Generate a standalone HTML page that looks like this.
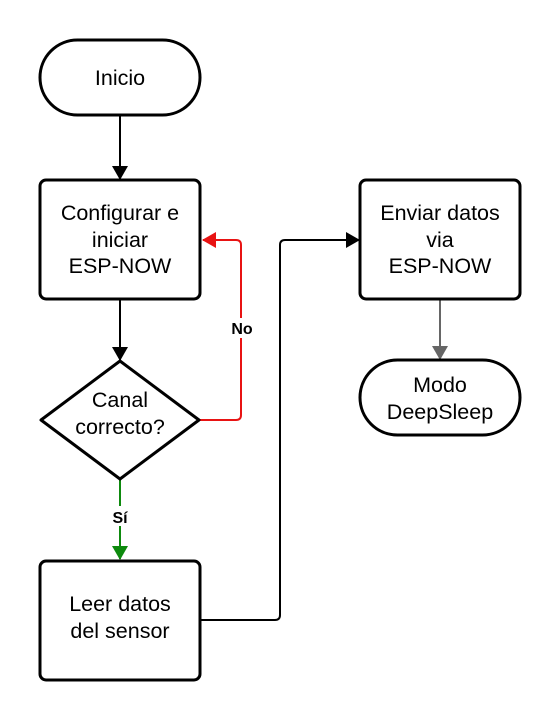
<!DOCTYPE html>
<html><head><meta charset="utf-8"><style>html,body{margin:0;padding:0;background:#fff}svg{display:block}</style></head><body>
<svg width="560" height="720" viewBox="0 0 560 720" xmlns="http://www.w3.org/2000/svg" font-family="Liberation Sans, Arial, sans-serif">
<defs>
<marker id="ab" markerWidth="14" markerHeight="16" refX="13" refY="8" orient="auto" markerUnits="userSpaceOnUse"><path d="M0,0 L14,8 L0,16 Z" fill="#000"/></marker>
<marker id="ar" markerWidth="14" markerHeight="16" refX="13" refY="8" orient="auto" markerUnits="userSpaceOnUse"><path d="M0,0 L14,8 L0,16 Z" fill="#e81313"/></marker>
<marker id="ag" markerWidth="14" markerHeight="16" refX="13" refY="8" orient="auto" markerUnits="userSpaceOnUse"><path d="M0,0 L14,8 L0,16 Z" fill="#0e8a0e"/></marker>
<marker id="ay" markerWidth="14" markerHeight="16" refX="13" refY="8" orient="auto" markerUnits="userSpaceOnUse"><path d="M0,0 L14,8 L0,16 Z" fill="#666"/></marker>
</defs>
<g fill="none" stroke-width="2">
<line x1="120" y1="116" x2="120" y2="179" stroke="#000" marker-end="url(#ab)"/>
<line x1="120" y1="300" x2="120" y2="360" stroke="#000" marker-end="url(#ab)"/>
<path d="M198,420 H236 Q241,420 241,415 V245 Q241,240 236,240 H203" stroke="#e81313" marker-end="url(#ar)"/>
<line x1="120" y1="479" x2="120" y2="559" stroke="#0e8a0e" marker-end="url(#ag)"/>
<path d="M200,620 H275 Q280,620 280,615 V245 Q280,240 285,240 H359" stroke="#000" marker-end="url(#ab)"/>
<line x1="440" y1="300" x2="440" y2="359" stroke="#666" marker-end="url(#ay)"/>
</g>
<g fill="#fff" stroke="#000" stroke-width="3">
<rect x="40" y="40" width="160" height="75" rx="37.5"/>
<rect x="40" y="180" width="160" height="119" rx="6"/>
<path d="M120,361 L199,420 L120,479 L41,420 Z" stroke-linejoin="round"/>
<rect x="40" y="561" width="160" height="119" rx="6"/>
<rect x="360" y="180" width="160" height="119" rx="6"/>
<rect x="360" y="360" width="160" height="75" rx="37.5"/>
</g>
<rect x="228" y="318" width="28" height="20" fill="#fff"/>
<rect x="108" y="506" width="24" height="20" fill="#fff"/>
<g font-size="21.5" text-anchor="middle" fill="#000">
<text x="120" y="85">Inicio</text>
<text x="120" y="220">Configurar e</text>
<text x="120" y="247">iniciar</text>
<text x="120" y="273">ESP-NOW</text>
<text x="120" y="407">Canal</text>
<text x="120" y="434">correcto?</text>
<text x="120" y="611">Leer datos</text>
<text x="120" y="638">del sensor</text>
<text x="440" y="220">Enviar datos</text>
<text x="440" y="247">via</text>
<text x="440" y="273">ESP-NOW</text>
<text x="440" y="392">Modo</text>
<text x="440" y="419">DeepSleep</text>
</g>
<g font-size="16" font-weight="bold" text-anchor="middle" fill="#000">
<text x="242" y="334">No</text>
<text x="120" y="523">Sí</text>
</g>
</svg>
</body></html>
